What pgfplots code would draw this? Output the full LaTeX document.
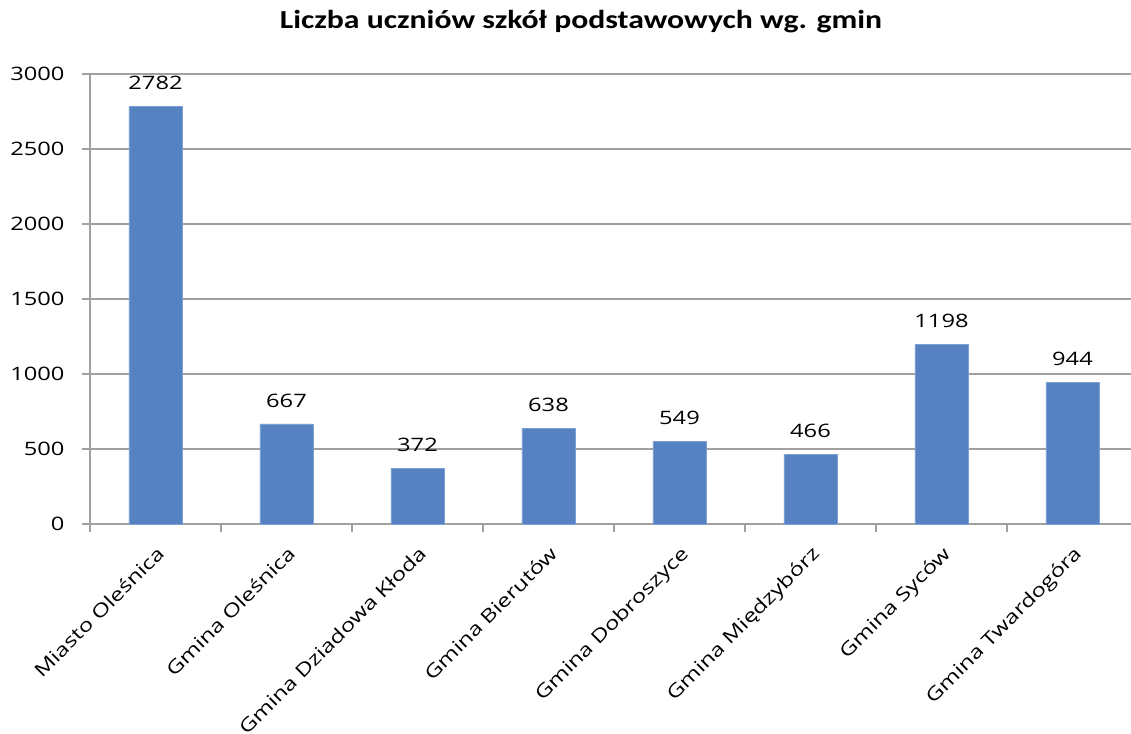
\documentclass[border=0pt]{standalone}
\usepackage{pgfplots}
\pgfplotsset{compat=1.18}
\usepackage{fontspec}
\setmainfont[FakeStretch=1.28]{Open Sans}
\newfontfamily\titlefont[FakeStretch=1.22]{Carlito}
\definecolor{barblue}{RGB}{86,130,193}
\definecolor{baredge}{RGB}{125,160,212}
\definecolor{gridgray}{RGB}{160,160,160}
\begin{document}
\begin{tikzpicture}
\begin{axis}[
  at={(90pt,209pt)}, anchor=south west,
  scale only axis,
  width=1048pt, height=450pt,
  xmin=-0.5, xmax=7.5,
  ymin=0, ymax=3000,
  ytick={0,500,...,3000},
  xtick={-0.5,0.5,...,7.5},
  x tick label as interval,
  xticklabels={Miasto Oleśnica,Gmina Oleśnica,Gmina Dziadowa Kłoda,Gmina Bierutów,Gmina Dobroszyce,Gmina Międzybórz,Gmina Syców,Gmina Twardogóra},
  axis x line*=bottom, axis y line*=left,
  axis line style={draw=gridgray, line width=1.5pt},
  ymajorgrids,
  grid style={draw=gridgray, line width=1.5pt},
  tick style={draw=gridgray, line width=1.5pt},
  major tick length=8pt, tick align=outside,
  /pgf/number format/assume math mode=true,
  /pgf/number format/1000 sep={},
  tick label style={font=\fontsize{18.5}{22}\selectfont, text=black},
  yticklabel style={xshift=-14pt},
  xticklabel style={anchor=north east, xshift=0pt, yshift=-8pt, rotate=45},
  ybar, bar width=53pt,
  nodes near coords,
  every node near coord/.append style={font=\fontsize{18.5}{22}\selectfont, text=black, yshift=13pt},
  clip=false,
]
\addplot[fill=barblue, draw=baredge, line width=0.8pt] coordinates {
  (0,2782) (1,667) (2,372) (3,638) (4,549) (5,466) (6,1198) (7,944)
};
\end{axis}
\node[anchor=base] at (581pt,704pt) {\titlefont\bfseries\fontsize{26}{30}\selectfont Liczba uczniów szkół podstawowych wg. gmin};
\pgfresetboundingbox
\path[use as bounding box] (0,0) rectangle (1131pt,733pt);
\end{tikzpicture}
\end{document}
